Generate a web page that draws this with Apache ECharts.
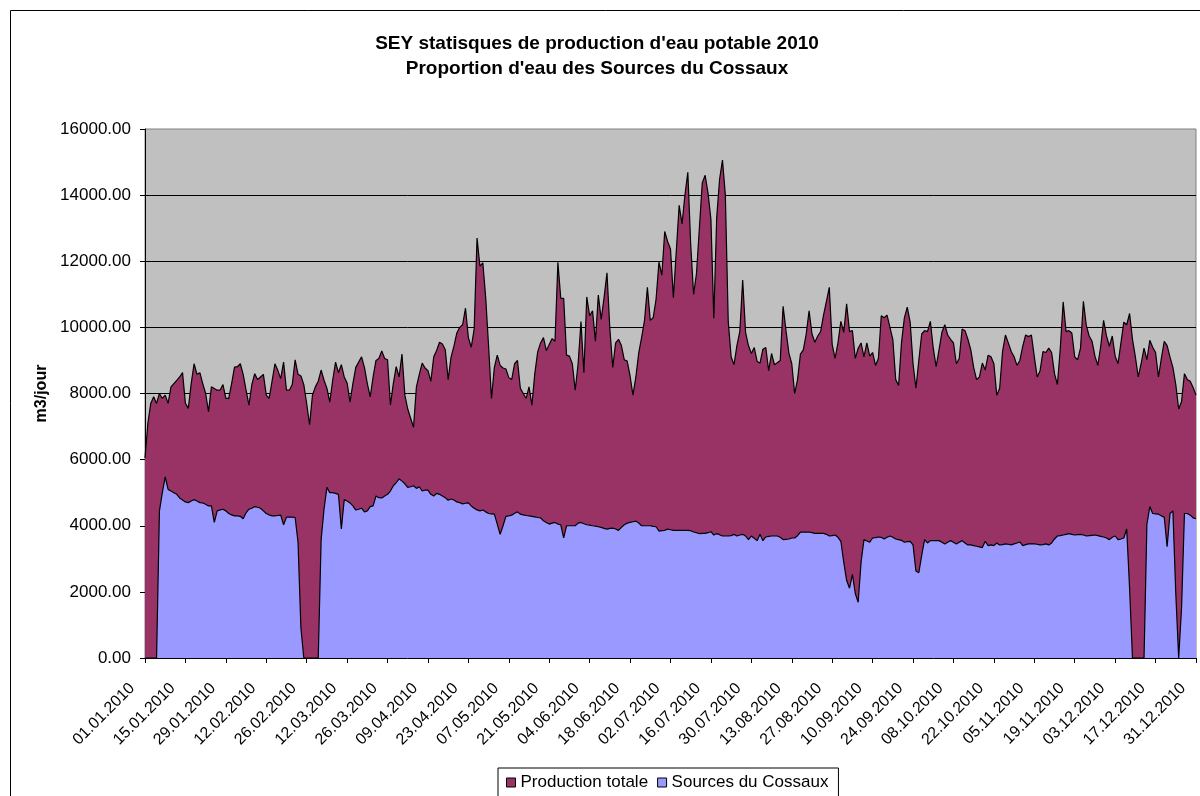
<!DOCTYPE html>
<html>
<head>
<meta charset="utf-8">
<title>SEY production d'eau potable 2010</title>
<script src="https://cdn.jsdelivr.net/npm/echarts@6/dist/echarts.min.js"></script>
<style>
  html, body { margin: 0; padding: 0; background: #fff; }
  #chart { width: 1200px; height: 796px; }
</style>
</head>
<body>
<div id="chart"></div>
<script>
// jours de l'annee 2010 (etiquettes de l'axe x)
const startDate = new Date(2010, 0, 1);
const dayCount = 365;
const days = [];
for (let i = 0; i < dayCount; i++) {
  const d = new Date(startDate.getTime() + i * 86400000);
  const dd = String(d.getDate()).padStart(2, '0');
  const mm = String(d.getMonth() + 1).padStart(2, '0');
  days.push(dd + '.' + mm + '.' + d.getFullYear());
}

// graduations de l'axe y
const yTicks = [0, 2000, 4000, 6000, 8000, 10000, 12000, 14000, 16000];

// production totale (m3/jour)
const productionTotale = [
  6050, 7100, 7700, 7900, 7700, 8000, 7850, 7950, 7700, 8200,
  8300, 8400, 8500, 8630, 7700, 7550, 8300, 8900, 8580, 8630,
  8300, 8000, 7450, 8200, 8150, 8100, 8100, 8270, 7850, 7850,
  8300, 8800, 8810, 8900, 8580, 8100, 7650, 8270, 8600, 8420,
  8500, 8580, 7950, 7850, 8370, 8900, 8700, 8450, 8950, 8100,
  8100, 8270, 9020, 8580, 8530, 8270, 7690, 7055, 7950, 8200,
  8370, 8710, 8400, 8160, 7740, 8400, 8950, 8630, 8870, 8500,
  8320, 7740, 8300, 8790, 8950, 9110, 8790, 8300, 7900, 8500,
  9000, 9060, 9290, 9060, 9020, 7650, 8300, 8810, 8500, 9190,
  7950, 7530, 7250, 6980, 8200, 8580, 8920, 8770, 8690, 8370,
  9110, 9300, 9550, 9500, 9320, 8420, 9100, 9430, 9830, 10000,
  10080, 10580, 9690, 9400, 9950, 12700, 11850, 11950, 10900, 9430,
  7850, 8790, 9160, 8850, 8770, 8740, 8480, 8420, 8900, 9000,
  8160, 8000, 7850, 8200, 7650, 8600, 9260, 9530, 9690, 9300,
  9480, 9660, 9580, 11970, 10880, 10880, 9160, 9130, 8900, 8100,
  8900, 10180, 8630, 10920, 10350, 10500, 9580, 10980, 10240, 10900,
  11650, 9950, 8790, 9530, 9640, 9450, 9020, 8980, 8530, 7950,
  8500, 9230, 9700, 10210, 11210, 10210, 10290, 10850, 11970, 11580,
  12900, 12600, 12370, 10900, 12300, 13690, 13130, 14000, 14690, 12500,
  11000, 11630, 13000, 14370, 14600, 14060, 13270, 10280, 13320, 14480,
  15060, 14000, 10180, 9110, 8870, 9450, 9870, 11430, 9850, 9450,
  9210, 9390, 8970, 8920, 9340, 9390, 8690, 9210, 8870, 8930,
  9000, 10640, 9900, 9220, 8900, 8000, 8420, 9190, 9320, 9800,
  10500, 9800, 9550, 9740, 9870, 10370, 10790, 11210, 9480, 9060,
  9530, 10180, 9850, 10710, 9870, 9900, 9060, 9370, 9530, 9110,
  9530, 9130, 9240, 8850, 9060, 10350, 10290, 10370, 10000, 9640,
  8420, 8240, 9530, 10290, 10610, 10160, 8900, 8160, 9000, 9800,
  9900, 9870, 10180, 9370, 8810, 9320, 9850, 10080, 9770, 9640,
  9530, 8900, 9060, 9950, 9900, 9640, 9320, 8790, 8420, 8500,
  8920, 8710, 9160, 9110, 8900, 7950, 8160, 9270, 9770, 9530,
  9270, 9110, 8850, 9000, 9430, 9770, 9720, 9770, 9110, 8500,
  8690, 9270, 9240, 9370, 9240, 8600, 8270, 9370, 10770, 9870,
  9900, 9830, 9110, 9020, 9370, 10790, 10060, 9740, 9580, 9130,
  8850, 9430, 10210, 9740, 9430, 9740, 9130, 8900, 9530, 10160,
  10080, 10420, 9640, 9110, 8500, 8900, 9370, 9020, 9610, 9400,
  9240, 8500, 9060, 9580, 9450, 9100, 8790, 8270, 7530, 7760,
  8600, 8420, 8370, 8180, 7950
];

// sources du Cossaux (m3/jour)
const sourcesCossaux = [
  0, 0, 0, 0, 0, 4450, 5000, 5475, 5100, 5050,
  5000, 4950, 4840, 4780, 4720, 4700, 4750, 4790, 4750, 4700,
  4690, 4650, 4600, 4600, 4100, 4450, 4480, 4500, 4450, 4370,
  4330, 4300, 4300, 4285, 4210, 4390, 4500, 4530, 4580, 4560,
  4530, 4450, 4370, 4330, 4300, 4300, 4310, 4320, 4030, 4260,
  4260, 4260, 4250, 3500, 900, 0, 0, 0, 0, 0,
  0, 3580, 4500, 5160, 5000, 5000, 4980, 4950, 3900, 4790,
  4750, 4690, 4600, 4475, 4500, 4530, 4420, 4450, 4580, 4600,
  4900, 4850, 4840, 4900, 4950, 5050, 5210, 5300, 5420, 5350,
  5270, 5160, 5180, 5210, 5130, 5180, 5050, 5080, 5080, 4950,
  4900, 4980, 4950, 4900, 4850, 4770, 4810, 4780, 4720, 4700,
  4660, 4680, 4690, 4600, 4530, 4480, 4450, 4475, 4420, 4370,
  4360, 4350, 4050, 3740, 4000, 4285, 4300, 4320, 4380, 4420,
  4350, 4330, 4310, 4300, 4285, 4270, 4250, 4240, 4150, 4100,
  4050, 4080, 4100, 4050, 4030, 3630, 4000, 4000, 4000, 4000,
  4080, 4100, 4060, 4030, 4020, 4000, 3990, 3970, 3950, 3920,
  3900, 3920, 3930, 3900, 3860, 3950, 4030, 4080, 4100, 4120,
  4140, 4080, 4000, 4000, 4000, 4000, 3980, 3970, 3840, 3850,
  3860, 3900, 3880, 3860, 3860, 3860, 3860, 3860, 3860, 3850,
  3810, 3790, 3760, 3770, 3770, 3790, 3820, 3720, 3760, 3730,
  3690, 3690, 3690, 3700, 3740, 3690, 3720, 3740, 3690, 3580,
  3690, 3620, 3550, 3740, 3550, 3660, 3680, 3690, 3690, 3690,
  3650, 3580, 3590, 3600, 3630, 3630, 3700, 3810, 3810, 3810,
  3810, 3790, 3770, 3770, 3770, 3770, 3740, 3690, 3700, 3720,
  3650, 3530, 2900, 2350, 2110, 2530, 1950, 1685, 2900, 3580,
  3540, 3500, 3630, 3640, 3660, 3650, 3600, 3650, 3690, 3650,
  3600, 3580, 3560, 3500, 3520, 3530, 3420, 2630, 2580, 3100,
  3580, 3480, 3550, 3550, 3550, 3550, 3500, 3450, 3500, 3550,
  3500, 3450, 3500, 3550, 3480, 3420, 3420, 3400, 3380, 3360,
  3340, 3530, 3400, 3420, 3400, 3480, 3420, 3430, 3450, 3440,
  3420, 3450, 3480, 3510, 3400, 3430, 3450, 3450, 3450, 3440,
  3420, 3430, 3450, 3420, 3480, 3600, 3690, 3700, 3720, 3740,
  3760, 3740, 3720, 3730, 3740, 3720, 3690, 3700, 3710, 3720,
  3700, 3680, 3660, 3630, 3580, 3650, 3690, 3580, 3600, 3630,
  3900, 2110, 0, 0, 0, 0, 0, 4050, 4580, 4370,
  4360, 4350, 4300, 4260, 3370, 4370, 4450, 1950, 0, 1530,
  4370, 4370, 4320, 4240, 4210
];

const font = "'Liberation Sans', Arial, sans-serif";

const chart = echarts.init(document.getElementById('chart'), null, {renderer: 'canvas'});

const option = {
  backgroundColor: '#fff',
  animation: false,
  title: {
    text: "SEY statisques de production d'eau potable 2010\nProportion d'eau des Sources du Cossaux",
    left: 592,
    top: 26,
    textAlign: 'center',
    textStyle: {
      fontFamily: font,
      fontSize: 19,
      fontWeight: 'bold',
      color: '#000',
      lineHeight: 25
    }
  },
  // cadre exterieur du graphique
  graphic: [
    {
      type: 'rect',
      shape: {x: 10.5, y: 10.5, width: 1200, height: 800},
      style: {fill: 'none', stroke: '#000', lineWidth: 1},
      silent: true
    }
  ],
  legend: {
    left: 498,
    top: 768,
    orient: 'horizontal',
    icon: 'rect',
    itemWidth: 9,
    itemHeight: 9,
    itemGap: 9,
    padding: [6, 10, 7, 8],
    borderColor: '#000',
    borderWidth: 1,
    backgroundColor: '#fff',
    itemStyle: {borderColor: '#000', borderWidth: 1},
    textStyle: {fontFamily: font, fontSize: 17, color: '#000'},
    data: ['Production totale', 'Sources du Cossaux']
  },
  grid: {
    left: 145,
    right: 4,
    top: 129,
    bottom: 138,
    show: true,
    backgroundColor: '#C0C0C0',
    borderColor: '#808080',
    borderWidth: 1
  },
  xAxis: {
    type: 'category',
    data: days,
    boundaryGap: false,
    axisLine: {lineStyle: {color: '#000', width: 1}},
    axisTick: {show: true, interval: 13, length: 5, lineStyle: {color: '#000'}},
    axisLabel: {
      interval: 13,
      rotate: 45,
      margin: 15,
      padding: [0, 18, 0, 0],
      fontFamily: font,
      fontSize: 16,
      color: '#000'
    },
    splitLine: {show: false}
  },
  yAxis: {
    type: 'value',
    min: yTicks[0],
    max: yTicks[yTicks.length - 1],
    interval: 2000,
    name: 'm3/jour',
    nameLocation: 'middle',
    nameRotate: 90,
    nameGap: 95,
    nameTextStyle: {fontFamily: font, fontSize: 16, fontWeight: 'bold', color: '#000'},
    axisLine: {show: true, lineStyle: {color: '#000', width: 1}},
    axisTick: {show: true, length: 5, lineStyle: {color: '#000'}},
    axisLabel: {
      margin: 14,
      fontFamily: font,
      fontSize: 17,
      color: '#000',
      formatter: v => v.toFixed(2)
    },
    splitLine: {show: true, showMinLine: false, showMaxLine: false, lineStyle: {color: '#000', width: 1}}
  },
  series: [
    {
      name: 'Production totale',
      type: 'line',
      data: productionTotale,
      symbol: 'none',
      smooth: false,
      itemStyle: {color: '#993366'},
      lineStyle: {color: '#000', width: 1.2},
      areaStyle: {color: '#993366', opacity: 1},
      z: 2
    },
    {
      name: 'Sources du Cossaux',
      type: 'line',
      data: sourcesCossaux,
      symbol: 'none',
      smooth: false,
      itemStyle: {color: '#9999FF'},
      lineStyle: {color: '#000', width: 1.2},
      areaStyle: {color: '#9999FF', opacity: 1},
      z: 3
    }
  ]
};

chart.setOption(option);
</script>
</body>
</html>
